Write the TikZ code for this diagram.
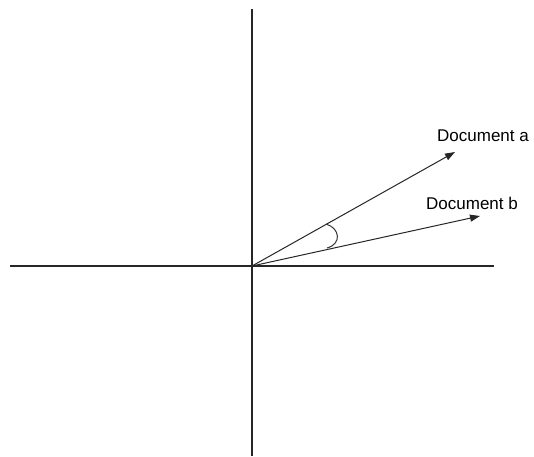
\documentclass[tikz,border=0pt]{standalone}
\usepackage{fontspec}
\setmainfont{Liberation Sans}
\usetikzlibrary{arrows.meta}
\begin{document}
\begin{tikzpicture}[x=1pt,y=-1pt,
  axis/.style={line width=1.3pt,black!85},
  vec/.style={line width=1pt,black!85,-{Triangle[length=10pt,width=7pt]}},
  lbl/.style={font=\fontsize{17}{19}\selectfont,inner sep=0pt}]
\useasboundingbox (0,0) rectangle (534,456);
\coordinate (O) at (252,266);
\coordinate (xl) at (10,266);
\coordinate (xr) at (494,266);
\coordinate (yt) at (252,9);
\coordinate (yb) at (252,456);
\coordinate (A) at (455,152);
\coordinate (B) at (480,216);
\coordinate (a1) at (326,224);
\coordinate (b1) at (327,248);
\draw[axis] (xl) -- (xr);
\draw[axis] (yt) -- (yb);
\draw[vec] (O) -- (A);
\draw[vec] (O) -- (B);
\draw[line width=1pt,black!80] (a1) .. controls (340,228) and (342,244) .. (b1);
\node[lbl] (la) at (483,136) {Document a};
\node[lbl] (lb) at (472,203) {Document b};
\end{tikzpicture}
\end{document}
